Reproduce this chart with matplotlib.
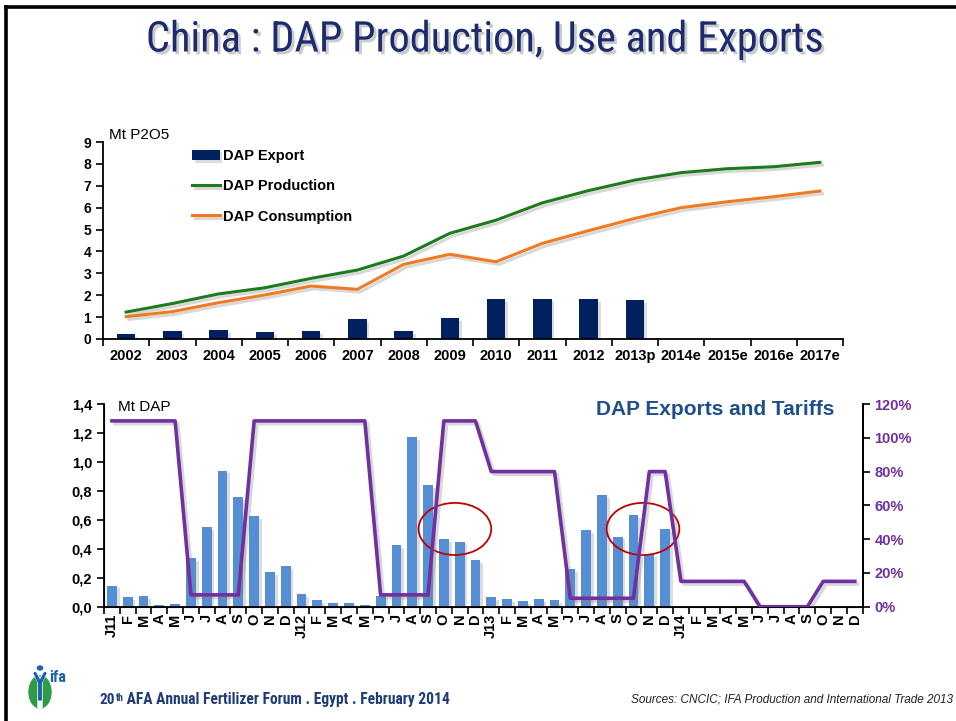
import matplotlib
matplotlib.use("Agg")
import matplotlib.pyplot as plt
import matplotlib.patheffects as pe
from matplotlib.lines import Line2D
from matplotlib.patches import Ellipse, Polygon, Circle
from matplotlib.ticker import FixedLocator, FuncFormatter

# ---- annual data (Mt P2O5) ----
years = ["2002", "2003", "2004", "2005", "2006", "2007", "2008", "2009",
         "2010", "2011", "2012", "2013p", "2014e", "2015e", "2016e", "2017e"]
dap_export = [0.21, 0.37, 0.40, 0.33, 0.37, 0.91, 0.37, 0.95,
              1.83, 1.85, 1.81, 1.77]
dap_production = [1.23, 1.62, 2.06, 2.34, 2.77, 3.15, 3.79, 4.83,
                  5.43, 6.22, 6.78, 7.26, 7.60, 7.78, 7.87, 8.07]
dap_consumption = [1.02, 1.25, 1.66, 2.01, 2.42, 2.27, 3.41, 3.87,
                   3.53, 4.37, 4.95, 5.51, 6.00, 6.27, 6.50, 6.76]

# ---- monthly data (Mt DAP) and export tariff (%) ----
month_labels = ["J11", "F", "M", "A", "M", "J", "J", "A", "S", "O", "N", "D",
                "J12", "F", "M", "A", "M", "J", "J", "A", "S", "O", "N", "D",
                "J13", "F", "M", "A", "M", "J", "J", "A", "S", "O", "N", "D",
                "J14", "F", "M", "A", "M", "J", "J", "A", "S", "O", "N", "D"]
monthly_exports = [0.145, 0.064, 0.071, 0.012, 0.018, 0.334, 0.550, 0.940, 0.757, 0.624, 0.240, 0.280,
                   0.087, 0.046, 0.023, 0.028, 0.012, 0.076, 0.426, 1.170, 0.840, 0.467, 0.449, 0.320,
                   0.067, 0.051, 0.041, 0.055, 0.044, 0.258, 0.530, 0.770, 0.484, 0.633, 0.364, 0.534]
export_tariff = [110, 110, 110, 110, 110, 7, 7, 7, 7, 110, 110, 110,
                 110, 110, 110, 110, 110, 7, 7, 7, 7, 110, 110, 110,
                 80, 80, 80, 80, 80, 5, 5, 5, 5, 5, 80, 80,
                 15, 15, 15, 15, 15, 0, 0, 0, 0, 15, 15, 15]

plt.rcParams["font.family"] = ["Liberation Sans", "DejaVu Sans"]
NARROW = ["Roboto Condensed", "Liberation Sans", "DejaVu Sans"]

NAVY = "#002060"
GREEN = "#1E7A1E"
ORANGE = "#F07A22"
BLUE = "#558ED5"
PURPLE = "#7030A0"

fig = plt.figure(figsize=(9.56, 7.21), dpi=100)
W, H = 956, 721


def fx(px):
    return px / W


def fy(py):
    return 1 - py / H


line_fx = [pe.SimpleLineShadow(offset=(2, -2), shadow_color="0.5", alpha=0.3), pe.Normal()]
bar_fx = [pe.SimplePatchShadow(offset=(2, -2), shadow_rgbFace="0.55", alpha=0.3), pe.Normal()]

# ---- frame ----
fig.add_artist(Line2D([fx(4), 1], [fy(6.5), fy(6.5)], color="black", lw=2.6,
                      transform=fig.transFigure, solid_capstyle="butt"))
fig.add_artist(Line2D([fx(5.5), fx(5.5)], [fy(5), 0], color="black", lw=2.6,
                      transform=fig.transFigure, solid_capstyle="butt"))

# ---- title ----
fig.text(fx(485), fy(40), "China : DAP Production, Use and Exports",
         family=NARROW, fontsize=30.5,
         color="#1C2A6E", ha="center", va="center",
         path_effects=[pe.withSimplePatchShadow(offset=(2, -2), shadow_rgbFace="0.6", alpha=0.5)])

# ---- top chart ----
ax1 = fig.add_axes([fx(103), fy(339), fx(843) - fx(103), fy(142) - fy(339)])
xs = list(range(len(years)))
bars = ax1.bar(xs[:len(dap_export)], dap_export, width=0.4, color=NAVY,
               label="DAP Export", zorder=2)
for b in bars:
    b.set_path_effects(bar_fx)
l_prod, = ax1.plot(xs, dap_production, color=GREEN, lw=2.2, label="DAP Production",
                   path_effects=line_fx, zorder=3)
l_cons, = ax1.plot(xs, dap_consumption, color=ORANGE, lw=2.2, label="DAP Consumption",
                   path_effects=line_fx, zorder=3)
ax1.set_xlim(-0.5, len(years) - 0.5)
ax1.set_ylim(0, 9)
ax1.set_yticks(range(0, 10))
ax1.set_xticks(xs)
ax1.set_xticklabels(years, fontsize=10.5, fontweight="bold")
ax1.xaxis.set_minor_locator(FixedLocator([i + 0.5 for i in range(-1, len(years))]))
ax1.tick_params(axis="x", which="major", length=0, pad=7)
ax1.tick_params(axis="x", which="minor", length=5, direction="out", width=1.2)
ax1.tick_params(axis="y", length=5, direction="out", width=1.2, labelsize=10)
for lbl in ax1.get_yticklabels():
    lbl.set_fontweight("bold")
for s in ("top", "right"):
    ax1.spines[s].set_visible(False)
for s in ("left", "bottom"):
    ax1.spines[s].set_linewidth(1.3)
ax1.text(0.008, 1.035, "Mt P2O5", transform=ax1.transAxes, fontsize=11,
         ha="left", va="center")
ax1.legend(handles=[bars, l_prod, l_cons], loc="upper left",
           bbox_to_anchor=(0.12, 0.965), frameon=False,
           prop={"weight": "bold", "size": 10.5}, handlelength=1.9,
           handletextpad=0.25, labelspacing=1.12, borderpad=0, borderaxespad=0)

# ---- bottom chart ----
ax2 = fig.add_axes([fx(104), fy(606.7), fx(862.7) - fx(104), fy(404) - fy(606.7)])
mx = list(range(len(month_labels)))
mbars = ax2.bar(mx[:len(monthly_exports)], monthly_exports, width=0.62,
                color=BLUE, zorder=2)
for b in mbars:
    b.set_path_effects(bar_fx)
ax2.set_xlim(-0.5, len(month_labels) - 0.5)
ax2.set_ylim(0, 1.4)
ax2.set_yticks([i * 0.2 for i in range(8)])
ax2.yaxis.set_major_formatter(FuncFormatter(lambda v, p: f"{v:.1f}".replace(".", ",")))
ax2.set_xticks(mx)
ax2.set_xticklabels(month_labels, rotation=90, fontsize=10.5, fontweight="bold")
ax2.xaxis.set_minor_locator(FixedLocator([i + 0.5 for i in range(-1, len(month_labels))]))
ax2.tick_params(axis="x", which="major", length=0, pad=5)
ax2.tick_params(axis="x", which="minor", length=5, direction="out", width=1.2)
ax2.tick_params(axis="y", length=5, direction="out", width=1.2, labelsize=10.5)
for lbl in ax2.get_yticklabels():
    lbl.set_fontweight("bold")
ax2.spines["top"].set_visible(False)
for s in ("left", "bottom", "right"):
    ax2.spines[s].set_linewidth(1.3)
ax2.text(0.019, 0.985, "Mt DAP", transform=ax2.transAxes, fontsize=11,
         ha="left", va="center")
ax2.text(0.963, 0.975, "DAP Exports and Tariffs", transform=ax2.transAxes,
         fontsize=15, fontweight="bold", color="#1F4E8C", ha="right", va="center")
for cx in (21.7, 33.6):
    ax2.add_patch(Ellipse((cx, 0.537), width=4.6, height=0.36, fill=False,
                          edgecolor="#C00000", lw=1.3, zorder=5))

ax3 = ax2.twinx()
ax3.plot(mx, export_tariff, color=PURPLE, lw=2.6, path_effects=line_fx, zorder=4)
ax3.set_ylim(0, 120)
ax3.set_yticks(range(0, 121, 20))
ax3.yaxis.set_major_formatter(FuncFormatter(lambda v, p: f"{int(v)}%"))
ax3.tick_params(axis="y", length=5, direction="out", width=1.2, labelsize=10.5,
                labelcolor=PURPLE)
for lbl in ax3.get_yticklabels():
    lbl.set_fontweight("bold")
ax3.spines["top"].set_visible(False)
ax3.spines["right"].set_linewidth(1.3)

# ---- footer: logo and captions ----
fig.add_artist(Ellipse((fx(40), fy(692)), width=fx(22), height=fy(676) - fy(708),
                       color="#2E9B48", transform=fig.transFigure))
fig.add_artist(Polygon([(fx(38), fy(708)), (fx(42), fy(708)), (fx(42), fy(682)),
                        (fx(47), fy(672)), (fx(44), fy(671)), (fx(40), fy(679)),
                        (fx(36), fy(671)), (fx(33), fy(672)), (fx(38), fy(682))],
                       closed=True, color="white", transform=fig.transFigure))
fig.add_artist(Polygon([(fx(38.8), fy(700)), (fx(41.2), fy(700)), (fx(41.2), fy(683)),
                        (fx(46), fy(673)), (fx(44.5), fy(672.5)), (fx(40), fy(681)),
                        (fx(35.5), fy(672.5)), (fx(34), fy(673)), (fx(38.8), fy(683))],
                       closed=True, color="#1F5FAF", transform=fig.transFigure))
fig.add_artist(Circle((fx(40), fy(668)), radius=fx(2.6), color="#1F5FAF",
                      transform=fig.transFigure))
fig.text(fx(49), fy(677), "ifa", fontsize=11.5, fontweight="bold", color="#1F5FAF",
         ha="left", va="center", family=NARROW)

foot_font = dict(family=NARROW, fontweight="bold", color="#1F3C78")
t1 = fig.text(fx(100), fy(707), "20", fontsize=11, ha="left", va="bottom", **foot_font)
a2 = fig.add_artist(plt.Annotation("th", xy=(1, 1), xycoords=t1, ha="left", va="top",
                                   fontsize=7, **foot_font))
fig.add_artist(plt.Annotation(" AFA Annual Fertilizer Forum . Egypt . February 2014",
                              xy=(1, 0), xycoords=(a2, t1), ha="left", va="bottom",
                              fontsize=11.2, **foot_font))
fig.text(fx(953), fy(700), "Sources: CNCIC; IFA Production and International Trade 2013",
         fontsize=8.5, style="italic", color="#222222", ha="right", va="center")

fig.savefig("out.png", dpi=100)
